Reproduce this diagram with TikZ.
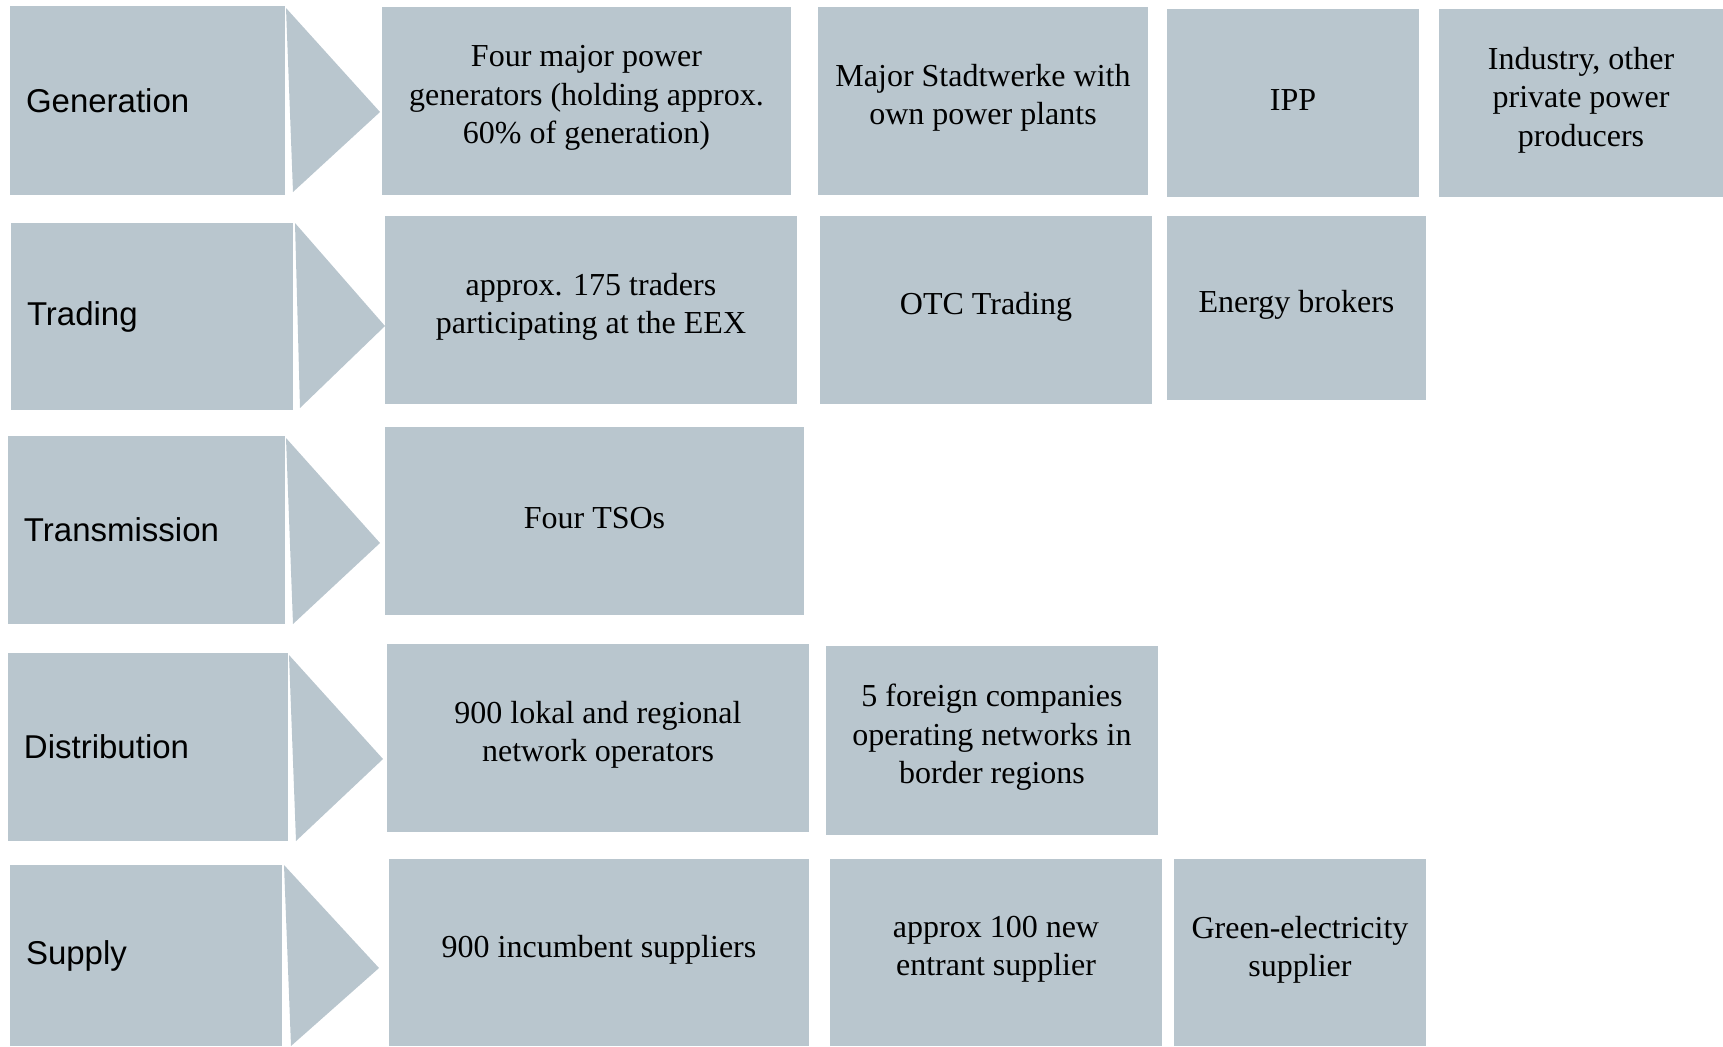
\documentclass[tikz,border=0pt]{standalone}
\usepackage{fontspec}
\setmainfont{Liberation Serif}
\newfontfamily\stagefont{Liberation Sans}
\usepackage{tikz}
\usetikzlibrary{fit}

\definecolor{boxgrey}{HTML}{B9C6CE}

\tikzset{
  cell/.style = {fill=boxgrey, inner sep=0pt},
  celltext/.style = {align=center, inner sep=0pt, yshift=1.5pt,
                     font=\fontsize{16}{19.2}\selectfont},
  stage/.style = {fill=boxgrey, inner sep=0pt},
  stagename/.style = {anchor=west, inner sep=0pt,
                      font=\stagefont\fontsize{16.5}{19.2}\selectfont},
  chevron/.style = {fill=boxgrey}
}

\begin{document}
\begin{tikzpicture}[x=0.5pt, y=-0.5pt]

\useasboundingbox (0,0) rectangle (1723,1046);

% generation
\node[stage, fit={(10,6) (285,195)}] (gen) {};
\node[stagename] (genname) at ([xshift=8pt]gen.west) {Generation};
\fill[chevron] (286,8) -- (293,192) -- (380,112) -- cycle;
\node[cell, fit={(382,7) (791,195)},
      label={[celltext]center:{Four major power\\generators (holding approx.\\60\% of generation)}}] (genA) {};
\node[cell, fit={(818,7) (1148,195)},
      label={[celltext]center:{Major Stadtwerke with\\own power plants}}] (genB) {};
\node[cell, fit={(1167,9) (1419,197)},
      label={[celltext]center:{IPP}}] (genC) {};
\node[cell, fit={(1439,9) (1723,197)},
      label={[celltext]center:{Industry, other\\private power\\producers}}] (genD) {};

% trading
\node[stage, fit={(11,223) (293,410)}] (trd) {};
\node[stagename] (trdname) at ([xshift=8pt]trd.west) {Trading};
\fill[chevron] (295,223) -- (300,408) -- (385,326) -- cycle;
\node[cell, fit={(385,216) (797,404)},
      label={[celltext]center:{approx. 175 traders\\participating at the EEX}}] (trdA) {};
\node[cell, fit={(820,216) (1152,404)},
      label={[celltext]center:{OTC Trading}}] (trdB) {};
\node[cell, fit={(1167,216) (1426,400)},
      label={[celltext]center:{Energy brokers}}] (trdC) {};

% transmission
\node[stage, fit={(8,436) (285,624)}] (trn) {};
\node[stagename] (trnname) at ([xshift=8pt]trn.west) {Transmission};
\fill[chevron] (286,438) -- (293,624) -- (380,543) -- cycle;
\node[cell, fit={(385,427) (804,615)},
      label={[celltext]center:{Four TSOs}}] (trnA) {};

% distribution
\node[stage, fit={(8,653) (288,841)}] (dst) {};
\node[stagename] (dstname) at ([xshift=8pt]dst.west) {Distribution};
\fill[chevron] (289,655) -- (296,841) -- (383,759) -- cycle;
\node[cell, fit={(387,644) (809,832)},
      label={[celltext]center:{900 lokal and regional\\network operators}}] (dstA) {};
\node[cell, fit={(826,646) (1158,835)},
      label={[celltext]center:{5 foreign companies\\operating networks in\\border regions}}] (dstB) {};

% supply
\node[stage, fit={(10,865) (282,1046)}] (sup) {};
\node[stagename] (supname) at ([xshift=8pt]sup.west) {Supply};
\fill[chevron] (284,865) -- (291,1046) -- (379,968) -- cycle;
\node[cell, fit={(389,859) (809,1046)},
      label={[celltext]center:{900 incumbent suppliers}}] (supA) {};
\node[cell, fit={(830,859) (1162,1046)},
      label={[celltext]center:{approx 100 new\\entrant supplier}}] (supB) {};
\node[cell, fit={(1174,859) (1426,1046)},
      label={[celltext]center:{Green-electricity\\supplier}}] (supC) {};

\end{tikzpicture}
\end{document}
